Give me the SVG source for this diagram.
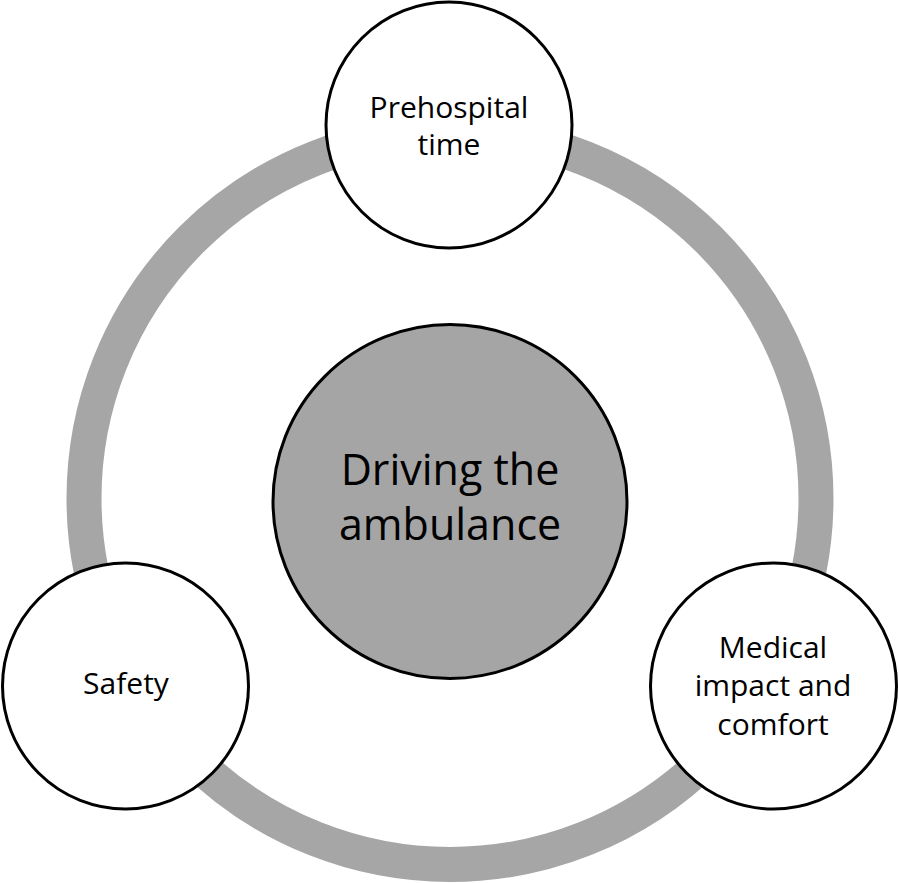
<svg xmlns="http://www.w3.org/2000/svg" width="899" height="883" viewBox="0 0 899 883">
  <style>
    .ring { fill: none; stroke: #a6a6a6; stroke-width: 35; }
    .node { fill: #ffffff; stroke: #000000; stroke-width: 3; }
    .hub { fill: #a6a5a6; stroke: #000000; stroke-width: 3; }
    .lbl { font-family: "Open Sans", "Liberation Sans", sans-serif; fill: #000000; text-anchor: middle; }
    .small { font-size: 30px; }
    .big { font-size: 43px; }
  </style>
  <rect width="899" height="883" fill="#ffffff"/>
  <g id="connectors">
    <circle class="ring" cx="450" cy="498.5" r="366"/>
  </g>
  <g id="hub">
    <circle class="hub" cx="450" cy="501.5" r="177"/>
    <text class="lbl big" x="450" y="485">Driving the</text>
    <text class="lbl big" x="450" y="540">ambulance</text>
  </g>
  <g id="prehospital">
    <circle class="node" cx="449" cy="125" r="123"/>
    <text class="lbl small" x="449" y="117.5">Prehospital</text>
    <text class="lbl small" x="449" y="155">time</text>
  </g>
  <g id="safety">
    <circle class="node" cx="125.5" cy="686" r="123"/>
    <text class="lbl small" x="126" y="693.5">Safety</text>
  </g>
  <g id="medical">
    <circle class="node" cx="773.5" cy="686" r="123"/>
    <text class="lbl small" x="773" y="658">Medical</text>
    <text class="lbl small" x="773" y="696">impact and</text>
    <text class="lbl small" x="773" y="734.5">comfort</text>
  </g>
</svg>
